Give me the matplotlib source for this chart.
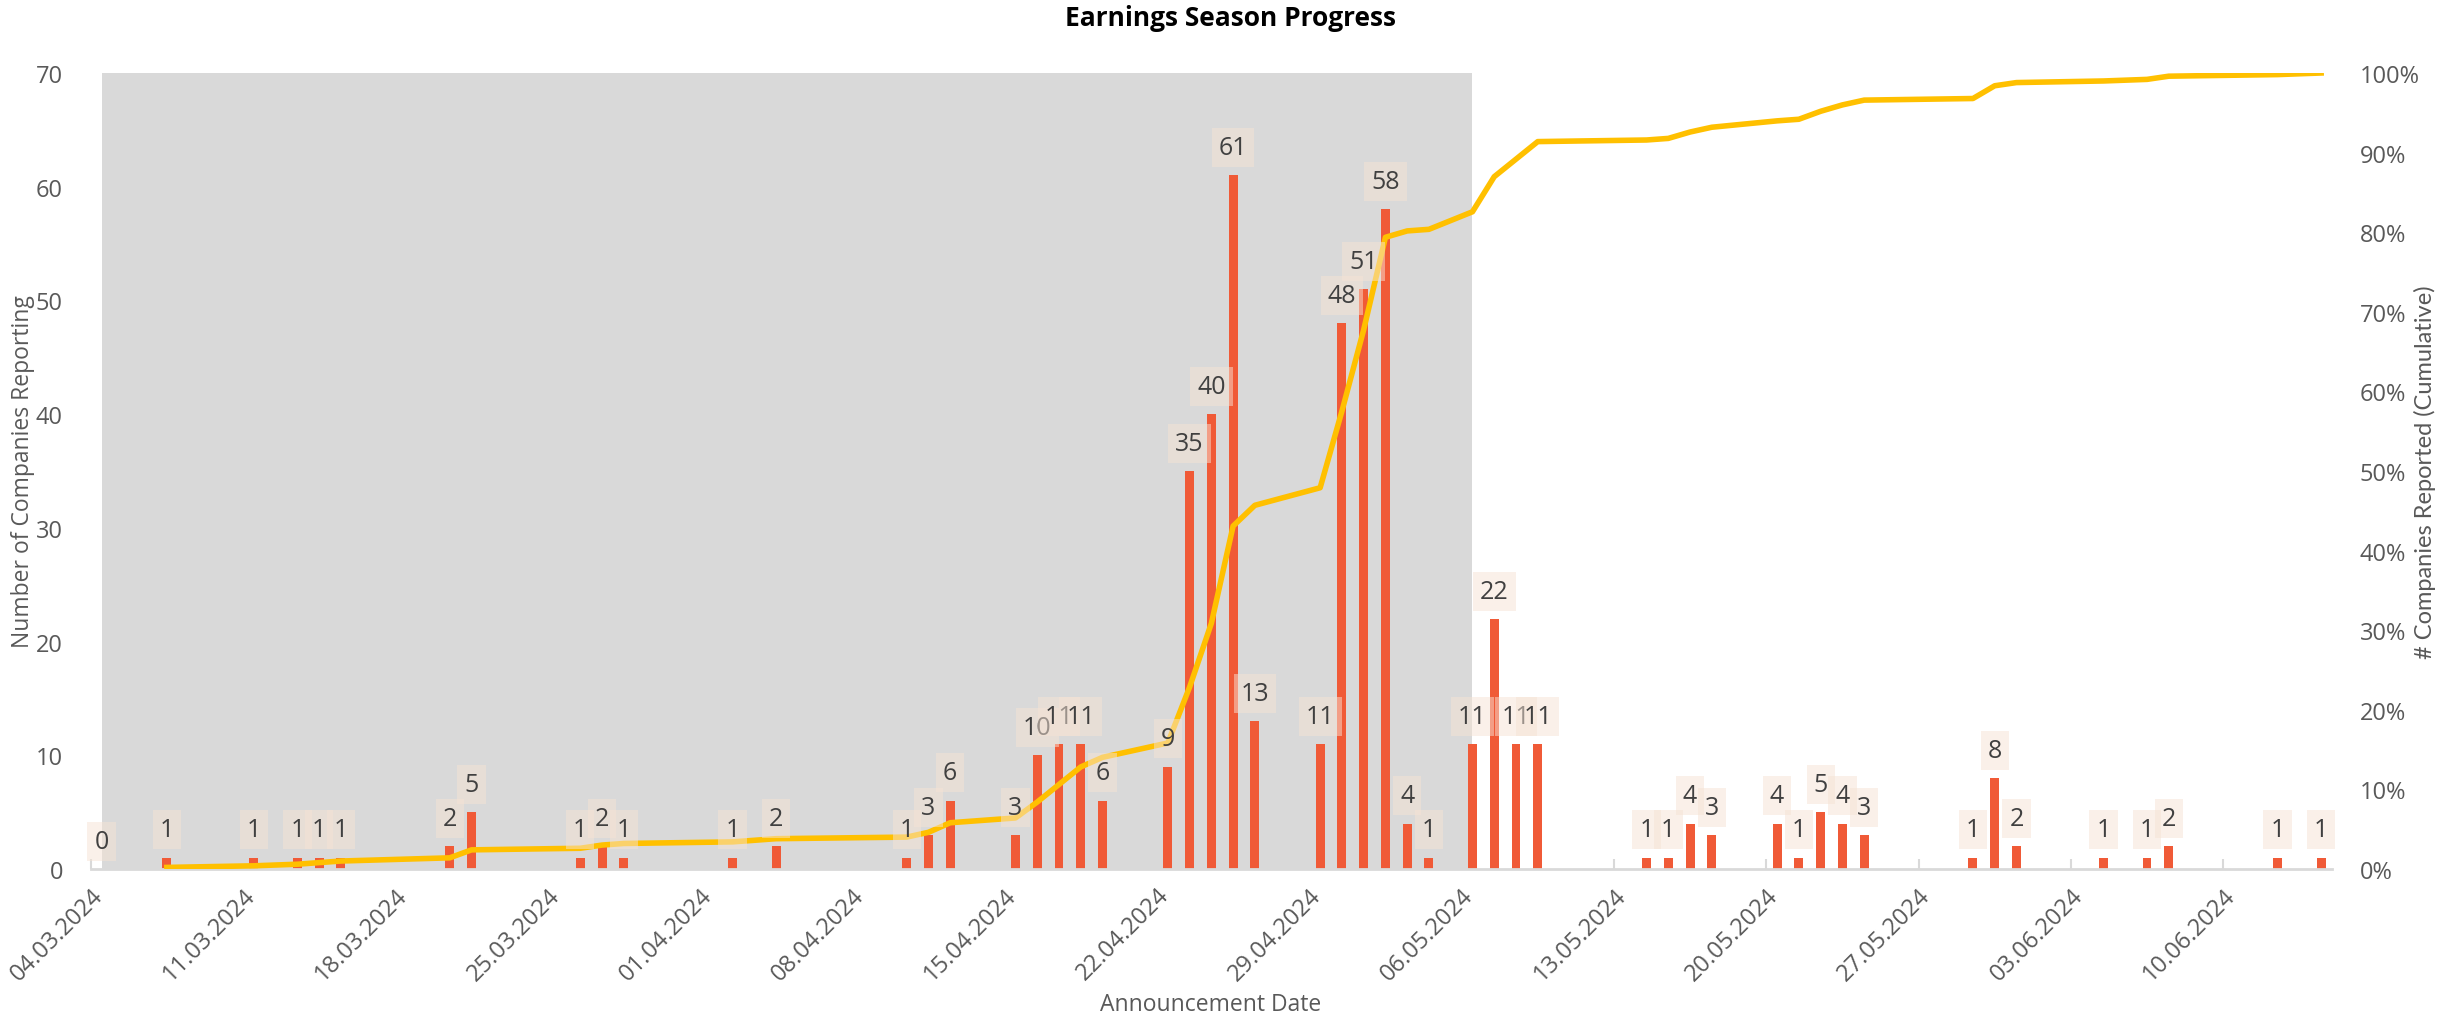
import matplotlib
matplotlib.use('Agg')
import matplotlib.pyplot as plt
import matplotlib.dates as mdates
import pandas as pd

# announcement dates and number of companies reporting on each
dates = ['2024-03-04', '2024-03-07', '2024-03-11', '2024-03-13', '2024-03-14', '2024-03-15',
         '2024-03-20', '2024-03-21', '2024-03-26', '2024-03-27', '2024-03-28',
         '2024-04-02', '2024-04-04', '2024-04-10', '2024-04-11', '2024-04-12',
         '2024-04-15', '2024-04-16', '2024-04-17', '2024-04-18', '2024-04-19',
         '2024-04-22', '2024-04-23', '2024-04-24', '2024-04-25', '2024-04-26',
         '2024-04-29', '2024-04-30', '2024-05-01', '2024-05-02', '2024-05-03', '2024-05-04',
         '2024-05-06', '2024-05-07', '2024-05-08', '2024-05-09',
         '2024-05-14', '2024-05-15', '2024-05-16', '2024-05-17',
         '2024-05-20', '2024-05-21', '2024-05-22', '2024-05-23', '2024-05-24',
         '2024-05-29', '2024-05-30', '2024-05-31',
         '2024-06-04', '2024-06-06', '2024-06-07', '2024-06-12', '2024-06-14']
counts = [0, 1, 1, 1, 1, 1,
          2, 5, 1, 2, 1,
          1, 2, 1, 3, 6,
          3, 10, 11, 11, 6,
          9, 35, 40, 61, 13,
          11, 48, 51, 58, 4, 1,
          11, 22, 11, 11,
          1, 1, 4, 3,
          4, 1, 5, 4, 3,
          1, 8, 2,
          1, 1, 2, 1, 1]

# shaded period (season so far)
shade_start = '2024-03-04'
shade_end = '2024-05-06'

week_ticks = pd.date_range('2024-03-04', '2024-06-10', freq='7D')

BAR_COLOR = '#F05A37'
LINE_COLOR = '#FFC000'
SHADE_COLOR = '#D9D9D9'
TEXT_COLOR = '#595959'
FONT = ['Open Sans', 'DejaVu Sans']

plt.rcParams['font.family'] = FONT

x = pd.to_datetime(dates)
xn = mdates.date2num(x)
total = sum(counts)
cum_share = pd.Series(counts).cumsum() / total

fig = plt.figure(figsize=(24.61, 10.2), dpi=100)
ax = fig.add_axes([90.7 / 2461, 1 - 870 / 1020, (2332 - 90.7) / 2461, (870 - 74) / 1020])

ax.axvspan(mdates.date2num(pd.Timestamp(shade_start)), mdates.date2num(pd.Timestamp(shade_end)),
           color=SHADE_COLOR, zorder=1, lw=0)
ax.bar(xn, counts, width=0.41, color=BAR_COLOR, zorder=2)

ax.set_xlim(xn[0] - 0.5, xn[-1] + 0.5)
ax.set_ylim(0, 70)
ax.set_yticks(range(0, 71, 10))
ax.set_axisbelow(True)

ax.set_xticks(mdates.date2num(week_ticks) - 0.5)
ax.set_xticklabels([d.strftime('%d.%m.%Y') for d in week_ticks], rotation=45,
                   ha='right', rotation_mode='anchor')
ax.tick_params(axis='x', direction='in', length=7, width=1.5, color='#D9D9D9',
               labelsize=17, labelcolor=TEXT_COLOR, pad=10)
ax.tick_params(axis='y', length=0, labelsize=17, labelcolor=TEXT_COLOR, pad=20)
for side in ['top', 'left', 'right']:
    ax.spines[side].set_visible(False)
ax.spines['bottom'].set_color('#D9D9D9')
ax.spines['bottom'].set_linewidth(2)

ax2 = ax.twinx()
ax2.plot(xn[1:], cum_share[1:], color=LINE_COLOR, lw=4, zorder=3, solid_joinstyle='round')
ax2.set_ylim(0, 1)
ax2.set_yticks([i / 10 for i in range(11)])
ax2.set_yticklabels([f'{i * 10}%' for i in range(11)])
ax2.tick_params(axis='y', length=0, labelsize=17, labelcolor=TEXT_COLOR, pad=20)
for side in ['top', 'left', 'right', 'bottom']:
    ax2.spines[side].set_visible(False)

# value labels in boxes above the bars
for d, v in zip(xn, counts):
    ax2.annotate(str(v), xy=(d, v), xycoords=ax.transData, xytext=(0, 11),
                 textcoords='offset points', ha='center', va='bottom',
                 fontsize=18, color='#404040', zorder=5,
                 bbox=dict(boxstyle='square,pad=0.28', fc='#F6E3D5', ec='none', alpha=0.5))

fig.text(0.5, 1 - 19 / 1020, 'Earnings Season Progress', ha='center', va='center',
         fontsize=19, fontweight='bold', color='black')
fig.text(23 / 2461, 1 - 472 / 1020, 'Number of Companies Reporting', rotation=90,
         ha='center', va='center', fontsize=16.5, color=TEXT_COLOR)
fig.text(2425 / 2461, 1 - 472 / 1020, '# Companies Reported (Cumulative)', rotation=90,
         ha='center', va='center', fontsize=17, color=TEXT_COLOR, family=['Lato', 'DejaVu Sans'])
fig.text(1211 / 2461, 1 - 1005 / 1020, 'Announcement Date', ha='center', va='center',
         fontsize=16.5, color=TEXT_COLOR)

fig.savefig('out.png', dpi=100)
